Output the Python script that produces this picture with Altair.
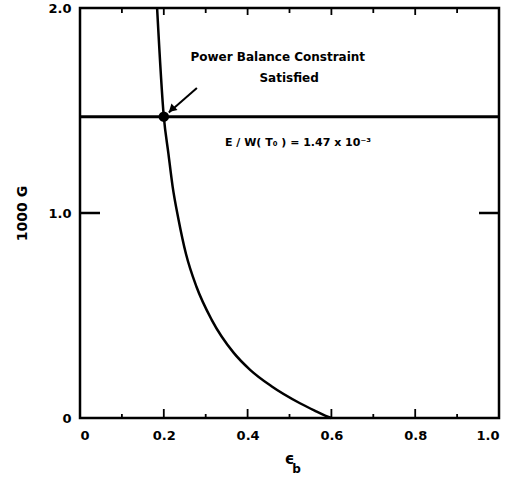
import altair as alt
import pandas as pd

# Operating curve: 1000 G versus epsilon_b
eps_b = [0.184, 0.200, 0.211, 0.221, 0.235, 0.253, 0.278, 0.314, 0.366,
         0.406, 0.457, 0.525, 0.560, 0.585, 0.600]
g_1000 = [2.00, 1.47, 1.29, 1.13, 0.97, 0.80, 0.64, 0.48, 0.32,
          0.235, 0.155, 0.072, 0.036, 0.012, 0.0]

# Power balance level and the point where the curve meets it
balance_level = 1.47
op_eps = [0.20]
op_g = [1.47]

# Axis ticks
x_major = [0.2, 0.4, 0.6, 0.8]
x_minor = [0.1, 0.3, 0.5, 0.7, 0.9]
x_labels = [0.0, 0.2, 0.4, 0.6, 0.8, 1.0]
y_labels = [0.0, 1.0, 2.0]
y_side_ticks = [1.0]

W, H = 419, 410
FONT = "DejaVu Sans"

xs = alt.Scale(domain=[0, 1], nice=False, zero=False)
ys = alt.Scale(domain=[0, 2], nice=False, zero=False)

curve_df = pd.DataFrame({"e": eps_b, "g": g_1000})
op_df = pd.DataFrame({"e": op_eps, "g": op_g})

x_axis = alt.Axis(values=x_labels, labelExpr="datum.value == 0 ? '0' : format(datum.value, '.1f')",
                  ticks=False, domain=False, grid=False, labelPadding=11,
                  labelFont=FONT, labelFontSize=13, labelFontWeight="bold",
                  labelColor="black", title=None)
y_axis = alt.Axis(values=y_labels, labelExpr="datum.value == 0 ? '0' : format(datum.value, '.1f')",
                  ticks=False, domain=False, grid=False, labelPadding=9,
                  labelFont=FONT, labelFontSize=13, labelFontWeight="bold",
                  labelColor="black", title="1000 G", titleFont=FONT,
                  titleFontSize=14, titleFontWeight="bold", titleColor="black",
                  titlePadding=18)

curve = alt.Chart(curve_df).mark_line(color="black", strokeWidth=2.5, interpolate="monotone").encode(
    x=alt.X("e:Q", scale=xs, axis=x_axis),
    y=alt.Y("g:Q", scale=ys, axis=y_axis),
)

level = alt.Chart(pd.DataFrame({"g": [balance_level]})).mark_rule(color="black", strokeWidth=3).encode(
    y=alt.Y("g:Q", scale=ys)
)

point = alt.Chart(op_df).mark_circle(color="black", size=110, opacity=1).encode(
    x=alt.X("e:Q", scale=xs), y=alt.Y("g:Q", scale=ys)
)

# Arrow from the annotation to the operating point
arrow_df = pd.DataFrame({"e": [0.279, 0.212], "g": [1.61, 1.49]})
arrow = alt.Chart(arrow_df).mark_line(color="black", strokeWidth=2).encode(
    x=alt.X("e:Q", scale=xs), y=alt.Y("g:Q", scale=ys)
)
head = alt.Chart(pd.DataFrame({"e": [0.221], "g": [1.51]})).mark_point(
    shape="triangle", filled=True, color="black", size=80, angle=227, opacity=1
).encode(x=alt.X("e:Q", scale=xs), y=alt.Y("g:Q", scale=ys))

ann_df = pd.DataFrame({
    "e": [0.472, 0.499, 0.346],
    "g": [1.76, 1.66, 1.34],
    "t": ["Power Balance Constraint", "Satisfied", "E / W( T₀ ) = 1.47 x 10⁻³"],
})
ann_c = alt.Chart(ann_df.iloc[:2]).mark_text(
    font=FONT, fontSize=12, fontWeight="bold", color="black", align="center", baseline="middle"
).encode(x=alt.X("e:Q", scale=xs), y=alt.Y("g:Q", scale=ys), text="t:N")
ann_l = alt.Chart(ann_df.iloc[2:]).mark_text(
    font=FONT, fontSize=11, fontWeight="bold", color="black", align="left", baseline="middle"
).encode(x=alt.X("e:Q", scale=xs), y=alt.Y("g:Q", scale=ys), text="t:N")

# x-axis title: epsilon with subscript b
xt_df = pd.DataFrame({"e": [0.50], "g": [-0.20], "t": ["ϵ"]})
xsub_df = pd.DataFrame({"e": [0.517], "g": [-0.25], "t": ["b"]})
x_title = alt.Chart(xt_df).mark_text(font=FONT, fontSize=15, fontWeight="bold", color="black").encode(
    x=alt.X("e:Q", scale=xs), y=alt.Y("g:Q", scale=ys), text="t:N")
x_sub = alt.Chart(xsub_df).mark_text(font=FONT, fontSize=12, fontWeight="bold", color="black").encode(
    x=alt.X("e:Q", scale=xs), y=alt.Y("g:Q", scale=ys), text="t:N")

# Inward tick marks on all four sides
def xticks(vals, y0, y1):
    return alt.Chart(pd.DataFrame({"e": vals})).mark_rule(color="black", strokeWidth=1.8).encode(
        x=alt.X("e:Q", scale=xs), y=alt.value(y0), y2=alt.value(y1))

def yticks(vals, x0, x1):
    return alt.Chart(pd.DataFrame({"g": vals})).mark_rule(color="black", strokeWidth=2.5).encode(
        y=alt.Y("g:Q", scale=ys), x=alt.value(x0), x2=alt.value(x1))

ticks = [
    xticks(x_major, H, H - 9), xticks(x_minor, H, H - 4),
    xticks(x_major, 0, 7), xticks(x_minor, 0, 5),
    yticks(y_side_ticks, 0, 20), yticks(y_side_ticks, W - 20, W),
]

chart = alt.layer(
    *ticks, level, curve, arrow, head, point, ann_c, ann_l, x_title, x_sub
).properties(
    width=W, height=H, autosize=alt.AutoSizeParams(type="none"),
    padding={"left": 80, "top": 8, "right": 10, "bottom": 63},
    background="white",
).configure_view(stroke="black", strokeWidth=2.5)

chart.save("out.html", embed_options={"renderer": "svg", "actions": False})
